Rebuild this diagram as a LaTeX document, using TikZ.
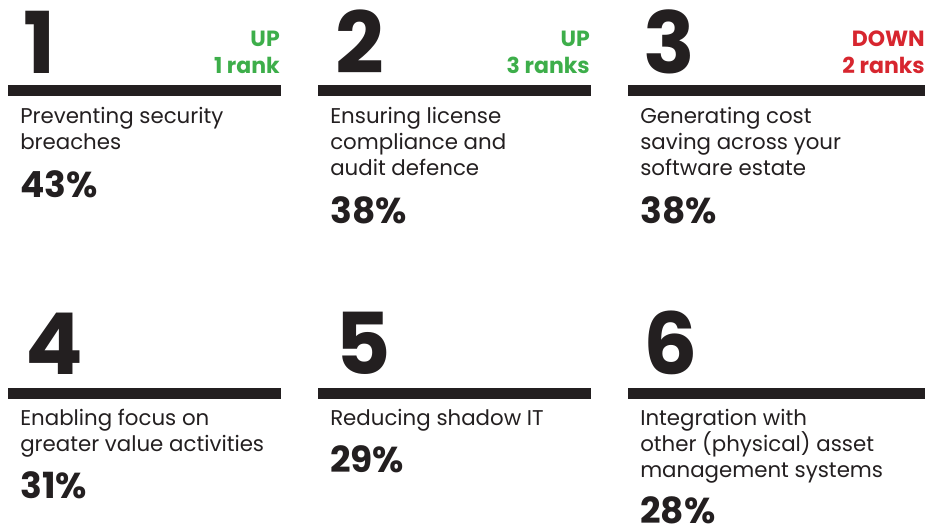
\documentclass[tikz,border=0pt]{standalone}
\usepackage{fontspec}
\setmainfont{Poppins}
\usetikzlibrary{positioning}
\definecolor{inkblack}{HTML}{231F20}
\definecolor{upgreen}{HTML}{3DAE4A}
\definecolor{downred}{HTML}{D7262F}

\begin{document}
\begin{tikzpicture}[x=0.75pt,y=-0.75pt,inner sep=0pt,
    bignum/.style={anchor=base west,text=inkblack,font=\fontsize{64}{64}\selectfont\bfseries},
    move/.style={anchor=base east,align=right,font=\fontsize{16.5}{20}\selectfont\bfseries},
    item/.style={anchor=base west,align=left,text=inkblack,font=\fontsize{16}{19.5}\selectfont},
    share/.style={anchor=base west,text=inkblack,font=\fontsize{27}{27}\selectfont\bfseries},
    rule/.style={fill=inkblack}]
  \useasboundingbox (0,0) rectangle (925,526);
  % row one (multi-line nodes sit on their last baseline)
  \node[bignum] (N1) at (23,73) {1};
  \node[bignum] (N2) at (335,73) {2};
  \node[bignum] (N3) at (643,73) {3};
  \node[move,text=upgreen] (M1) at (280,73) {UP\\1 rank};
  \node[move,text=upgreen] (M2) at (590,73) {UP\\3 ranks};
  \node[move,text=downred] (M3) at (925,73) {DOWN\\2 ranks};
  \fill[rule] (8,85) rectangle (281,96);
  \fill[rule] (318,85) rectangle (591,96);
  \fill[rule] (628,85) rectangle (925,96);
  \node[item] (T1) at (20,149) {Preventing security\\breaches};
  \node[item] (T2) at (330,175) {Ensuring license\\compliance and\\audit defence};
  \node[item] (T3) at (640,175) {Generating cost\\saving across your\\software estate};
  \node[share] (P1) at (20,197) {43\%};
  \node[share] (P2) at (330,223) {38\%};
  \node[share] (P3) at (640,223) {38\%};
  % row two
  \node[bignum] (N4) at (25,374) {4};
  \node[bignum] (N5) at (335,374) {5};
  \node[bignum] (N6) at (643,374) {6};
  \fill[rule] (8,388) rectangle (281,399);
  \fill[rule] (318,388) rectangle (591,399);
  \fill[rule] (628,388) rectangle (925,399);
  \node[item] (T4) at (20,451) {Enabling focus on\\greater value activities};
  \node[item] (T5) at (330,425) {Reducing shadow IT};
  \node[item] (T6) at (640,477) {Integration with\\other (physical) asset\\management systems};
  \node[share] (P4) at (20,498) {31\%};
  \node[share] (P5) at (330,472) {29\%};
  \node[share] (P6) at (640,523) {28\%};
\end{tikzpicture}
\end{document}
